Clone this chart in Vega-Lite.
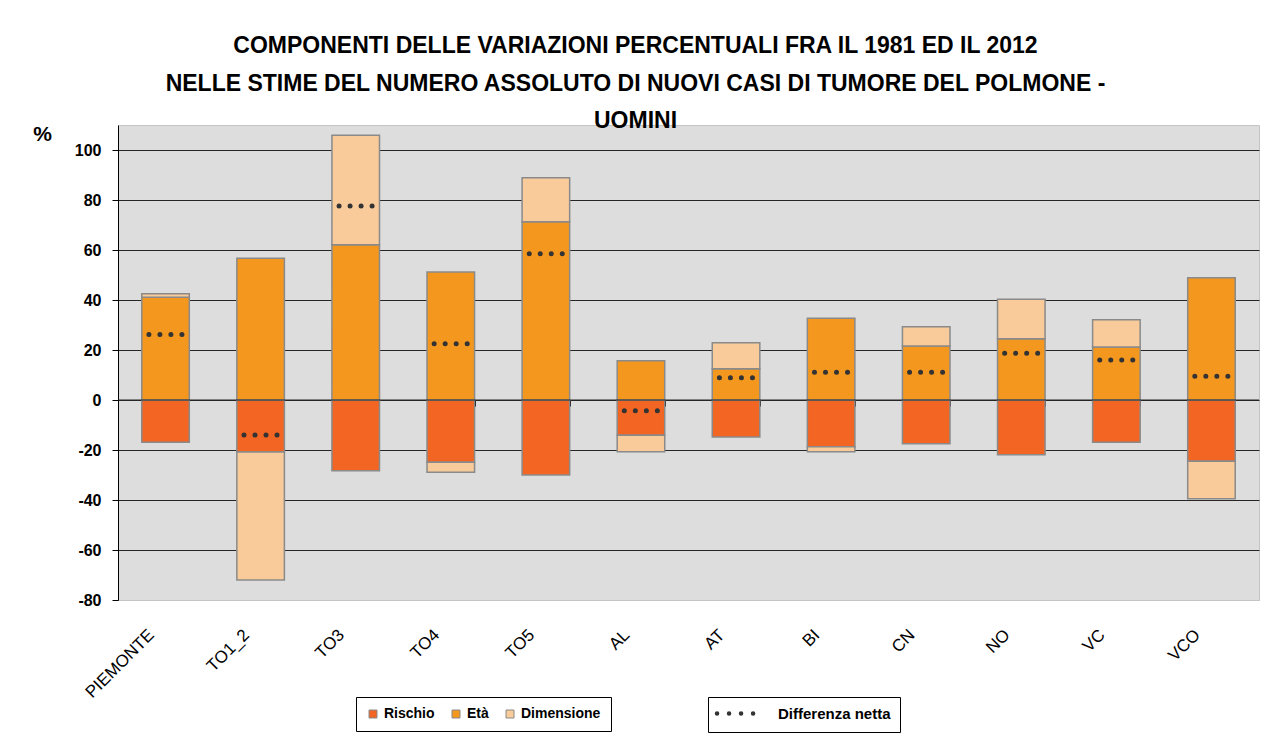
{
  "$schema": "https://vega.github.io/schema/vega-lite/v6.json",
  "width": 1141,
  "height": 475,
  "autosize": {"type": "none"},
  "padding": {"left": 118, "top": 125, "right": 6, "bottom": 156},
  "background": "white",
  "title": {
    "text": ["COMPONENTI DELLE VARIAZIONI PERCENTUALI FRA IL 1981 ED IL 2012", "NELLE STIME DEL NUMERO ASSOLUTO DI NUOVI CASI DI TUMORE DEL POLMONE -", "UOMINI"],
    "anchor": "middle",
    "frame": "group",
    "dx": -53,
    "fontSize": 23,
    "font": "Liberation Sans",
    "fontWeight": "bold",
    "color": "black",
    "lineHeight": 37.5,
    "offset": -33,
    "baseline": "bottom"
  },
  "datasets": {
    "comp": [
      {"regione": "PIEMONTE", "componente": "Rischio", "ordine": 1, "valore": -16.9},
      {"regione": "PIEMONTE", "componente": "Età", "ordine": 2, "valore": 41.1},
      {"regione": "PIEMONTE", "componente": "Dimensione", "ordine": 3, "valore": 1.4},
      {"regione": "TO1_2", "componente": "Rischio", "ordine": 1, "valore": -20.8},
      {"regione": "TO1_2", "componente": "Età", "ordine": 2, "valore": 56.7},
      {"regione": "TO1_2", "componente": "Dimensione", "ordine": 3, "valore": -51.2},
      {"regione": "TO3", "componente": "Rischio", "ordine": 1, "valore": -28.3},
      {"regione": "TO3", "componente": "Età", "ordine": 2, "valore": 62.1},
      {"regione": "TO3", "componente": "Dimensione", "ordine": 3, "valore": 43.8},
      {"regione": "TO4", "componente": "Rischio", "ordine": 1, "valore": -24.9},
      {"regione": "TO4", "componente": "Età", "ordine": 2, "valore": 51.2},
      {"regione": "TO4", "componente": "Dimensione", "ordine": 3, "valore": -4.0},
      {"regione": "TO5", "componente": "Rischio", "ordine": 1, "valore": -30.0},
      {"regione": "TO5", "componente": "Età", "ordine": 2, "valore": 71.3},
      {"regione": "TO5", "componente": "Dimensione", "ordine": 3, "valore": 17.6},
      {"regione": "AL", "componente": "Rischio", "ordine": 1, "valore": -14.1},
      {"regione": "AL", "componente": "Età", "ordine": 2, "valore": 15.7},
      {"regione": "AL", "componente": "Dimensione", "ordine": 3, "valore": -6.6},
      {"regione": "AT", "componente": "Rischio", "ordine": 1, "valore": -14.8},
      {"regione": "AT", "componente": "Età", "ordine": 2, "valore": 12.5},
      {"regione": "AT", "componente": "Dimensione", "ordine": 3, "valore": 10.4},
      {"regione": "BI", "componente": "Rischio", "ordine": 1, "valore": -18.7},
      {"regione": "BI", "componente": "Età", "ordine": 2, "valore": 32.7},
      {"regione": "BI", "componente": "Dimensione", "ordine": 3, "valore": -2.0},
      {"regione": "CN", "componente": "Rischio", "ordine": 1, "valore": -17.5},
      {"regione": "CN", "componente": "Età", "ordine": 2, "valore": 21.6},
      {"regione": "CN", "componente": "Dimensione", "ordine": 3, "valore": 7.7},
      {"regione": "NO", "componente": "Rischio", "ordine": 1, "valore": -21.9},
      {"regione": "NO", "componente": "Età", "ordine": 2, "valore": 24.5},
      {"regione": "NO", "componente": "Dimensione", "ordine": 3, "valore": 15.8},
      {"regione": "VC", "componente": "Rischio", "ordine": 1, "valore": -16.9},
      {"regione": "VC", "componente": "Età", "ordine": 2, "valore": 21.2},
      {"regione": "VC", "componente": "Dimensione", "ordine": 3, "valore": 10.9},
      {"regione": "VCO", "componente": "Rischio", "ordine": 1, "valore": -24.5},
      {"regione": "VCO", "componente": "Età", "ordine": 2, "valore": 48.9},
      {"regione": "VCO", "componente": "Dimensione", "ordine": 3, "valore": -15.0}
    ],
    "netto": [
      {"regione": "PIEMONTE", "serie": "Differenza netta", "valore": 26.2},
      {"regione": "TO1_2", "serie": "Differenza netta", "valore": -14.0},
      {"regione": "TO3", "serie": "Differenza netta", "valore": 77.6},
      {"regione": "TO4", "serie": "Differenza netta", "valore": 22.5},
      {"regione": "TO5", "serie": "Differenza netta", "valore": 58.5},
      {"regione": "AL", "serie": "Differenza netta", "valore": -4.3},
      {"regione": "AT", "serie": "Differenza netta", "valore": 8.9},
      {"regione": "BI", "serie": "Differenza netta", "valore": 11.1},
      {"regione": "CN", "serie": "Differenza netta", "valore": 11.1},
      {"regione": "NO", "serie": "Differenza netta", "valore": 18.7},
      {"regione": "VC", "serie": "Differenza netta", "valore": 16.0},
      {"regione": "VCO", "serie": "Differenza netta", "valore": 9.5}
    ],
    "zero": [{"livello": 0}]
  },
  "layer": [
    {
      "data": {"name": "comp"},
      "mark": {"type": "bar", "stroke": "#8a8a8a", "strokeWidth": 1.5},
      "encoding": {
        "x": {
          "field": "regione", "type": "nominal",
          "sort": ["PIEMONTE", "TO1_2", "TO3", "TO4", "TO5", "AL", "AT", "BI", "CN", "NO", "VC", "VCO"],
          "scale": {"paddingInner": 0.5, "paddingOuter": 0.25},
          "axis": {
            "title": null, "orient": "bottom", "labelAngle": -45, "labelAlign": "right", "labelBaseline": "middle",
            "labelPadding": 32, "labelOffset": -14, "ticks": false, "tickSize": 0, "domain": false, "grid": false,
            "labelFontSize": 17, "labelColor": "black", "labelFont": "Liberation Sans"
          }
        },
        "y": {
          "field": "valore", "type": "quantitative", "stack": "zero",
          "scale": {"domain": [-80, 110], "nice": false, "zero": false},
          "axis": {
            "title": "%", "titleAngle": 0, "titleX": -76, "titleY": 9, "titleAlign": "center", "titleBaseline": "middle",
            "titleFontSize": 21, "titleFontWeight": "bold", "titleColor": "black", "titleFont": "Liberation Sans",
            "values": [-80, -60, -40, -20, 0, 20, 40, 60, 80, 100],
            "labelExpr": "'' + datum.value",
            "labelFontSize": 16, "labelFontWeight": "bold", "labelColor": "black", "labelFont": "Liberation Sans",
            "labelPadding": 11, "tickSize": 6, "tickColor": "black", "domainColor": "black",
            "grid": true, "gridOpacity": 1,
            "gridColor": {"condition": {"test": "datum.value === -80", "value": "#c4c4c4"}, "value": "#262626"}
          }
        },
        "color": {
          "field": "componente", "type": "nominal",
          "scale": {"domain": ["Rischio", "Età", "Dimensione"], "range": ["#F26522", "#F4971E", "#F9CB9A"]},
          "legend": {
            "title": null, "orient": "none", "legendX": 238, "legendY": 572, "direction": "horizontal",
            "strokeColor": "black", "fillColor": "white", "padding": 10,
            "symbolType": "square", "symbolSize": 64, "symbolStrokeColor": "#8a8a8a", "symbolStrokeWidth": 1,
            "labelFontSize": 14, "labelFontWeight": "bold", "labelColor": "black", "labelFont": "Liberation Sans",
            "columnPadding": 14, "labelOffset": 4
          }
        },
        "order": {"field": "ordine", "type": "quantitative"}
      }
    },
    {
      "data": {"name": "zero"},
      "mark": {"type": "rule", "color": "#262626", "strokeWidth": 1},
      "encoding": {
        "y": {"field": "livello", "type": "quantitative"}
      }
    },
    {
      "data": {"name": "netto"},
      "mark": {"type": "rule", "strokeDash": [0.01, 11], "strokeCap": "round", "strokeWidth": 5},
      "encoding": {
        "x": {
          "field": "regione", "type": "nominal", "bandPosition": 0.15,
          "sort": ["PIEMONTE", "TO1_2", "TO3", "TO4", "TO5", "AL", "AT", "BI", "CN", "NO", "VC", "VCO"],
          "axis": {
            "title": null, "orient": "bottom", "offset": -200, "labels": false, "domain": false, "grid": false,
            "ticks": true, "tickBand": "extent", "tickSize": 6, "tickColor": "black"
          }
        },
        "x2": {"field": "regione", "bandPosition": 0.95},
        "y": {"field": "valore", "type": "quantitative"},
        "stroke": {
          "field": "serie", "type": "nominal",
          "scale": {"range": ["#333333"]},
          "legend": {
            "title": null, "orient": "none", "legendX": 590, "legendY": 572,
            "strokeColor": "black", "fillColor": "white", "padding": 9,
            "symbolType": "M-4.1,0h8.2", "symbolSize": 81, "symbolDash": [0.01, 12], "symbolStrokeWidth": 4.5,
            "labelFontSize": 15, "labelFontWeight": "bold", "labelColor": "black", "labelFont": "Liberation Sans",
            "labelOffset": 46,
            "encode": {"symbols": {"update": {"strokeCap": {"value": "round"}, "x": {"value": 18.5}}}}
          }
        }
      }
    }
  ],
  "resolve": {"axis": {"x": "independent"}},
  "config": {
    "view": {"fill": "#DDDDDD", "stroke": "#c4c4c4"},
    "font": "Liberation Sans"
  }
}
